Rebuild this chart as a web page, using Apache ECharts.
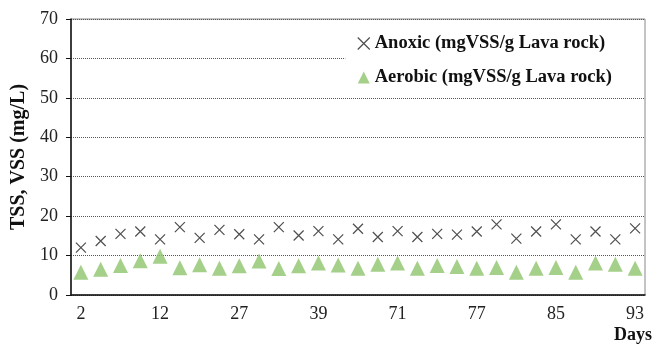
<!DOCTYPE html>
<html>
<head>
<meta charset="utf-8">
<script src="https://cdn.jsdelivr.net/npm/echarts@6/dist/echarts.min.js"></script>
<style>
  html, body { margin: 0; padding: 0; background: #fff; }
  #chart { width: 654px; height: 344px; }
</style>
</head>
<body>
<div id="chart"></div>
<script>
// sampling days (only every 4th one is labelled on the axis)
var days = ['2', '4', '7', '9', '12', '15', '18', '22', '27', '29', '32', '36', '39', '43', '47',
  '68', '71', '72', '74', '75', '77', '79', '81', '83', '85', '87', '89', '91', '93']

var anoxic = [12.0, 13.7, 15.5, 16.1, 14.1, 17.2, 14.5, 16.5, 15.4, 14.1, 17.2, 15.1, 16.2, 14.1, 16.8,
  14.7, 16.2, 14.7, 15.5, 15.3, 16.1, 17.9, 14.3, 16.1, 17.9, 14.1, 16.1, 14.1, 16.9]

var aerobic = [5.8, 6.5, 7.5, 8.7, 9.8, 6.9, 7.7, 6.8, 7.4, 8.6, 6.7, 7.4, 8.1, 7.6, 6.8,
  7.8, 8.1, 6.8, 7.5, 7.2, 6.8, 7.0, 5.8, 6.8, 7.0, 5.8, 8.1, 7.8, 6.8]

var serif = '"Liberation Serif", "DejaVu Serif", serif'
var crossPath = 'path://M0,0L10,10M0,10L10,0'

var chart = echarts.init(document.getElementById('chart'))
chart.setOption({
  animation: false,
  backgroundColor: '#fff',
  textStyle: { fontFamily: serif },
  grid: {
    left: 71, right: 9, top: 19, bottom: 49,
    show: true, borderColor: '#888', borderWidth: 1
  },
  legend: {
    orient: 'vertical',
    right: 10,
    top: 26,
    itemGap: 15,
    itemWidth: 12,
    itemHeight: 12,
    padding: [8, 32, 8, 10],
    backgroundColor: '#fff',
    textStyle: { fontFamily: serif, fontWeight: 'bold', fontSize: 18.5, color: '#111' },
    data: [
      { name: 'Anoxic (mgVSS/g Lava rock)', icon: crossPath,
        itemStyle: { color: 'none', borderColor: '#222', borderWidth: 1.2 } },
      { name: 'Aerobic (mgVSS/g Lava rock)', icon: 'triangle' }
    ]
  },
  xAxis: {
    type: 'category',
    data: days,
    boundaryGap: true,
    axisLine: { lineStyle: { color: '#111', width: 1.5 } },
    axisTick: { alignWithLabel: true, interval: 0, length: 5, lineStyle: { color: '#111' } },
    axisLabel: { interval: 3, margin: 10, fontSize: 18, color: '#222', fontFamily: serif },
    splitLine: { show: false }
  },
  yAxis: {
    type: 'value',
    min: 0, max: 70, interval: 10,
    name: 'TSS, VSS (mg/L)',
    nameLocation: 'middle',
    nameRotate: 90,
    nameGap: 38,
    nameTextStyle: { fontFamily: serif, fontWeight: 'bold', fontSize: 20, color: '#111' },
    axisLine: { show: true, lineStyle: { color: '#111', width: 1.5 } },
    axisTick: { show: true, length: 5, lineStyle: { color: '#111' } },
    axisLabel: { margin: 13, fontSize: 18, color: '#222', fontFamily: serif },
    splitLine: { show: true, lineStyle: { type: 'dotted', color: '#555', width: 1 } }
  },
  graphic: [{
    type: 'text',
    right: 2,
    bottom: 0,
    style: { text: 'Days', font: 'bold 18px ' + serif, fill: '#111' }
  }],
  series: [{
    name: 'Anoxic (mgVSS/g Lava rock)',
    type: 'scatter',
    symbol: crossPath,
    symbolSize: 10,
    itemStyle: { color: 'none', borderColor: '#222', borderWidth: 1.2 },
    data: anoxic
  }, {
    name: 'Aerobic (mgVSS/g Lava rock)',
    type: 'scatter',
    symbol: 'triangle',
    symbolSize: 15,
    itemStyle: { color: '#8ec46b' },
    data: aerobic
  }]
})
</script>
</body>
</html>
